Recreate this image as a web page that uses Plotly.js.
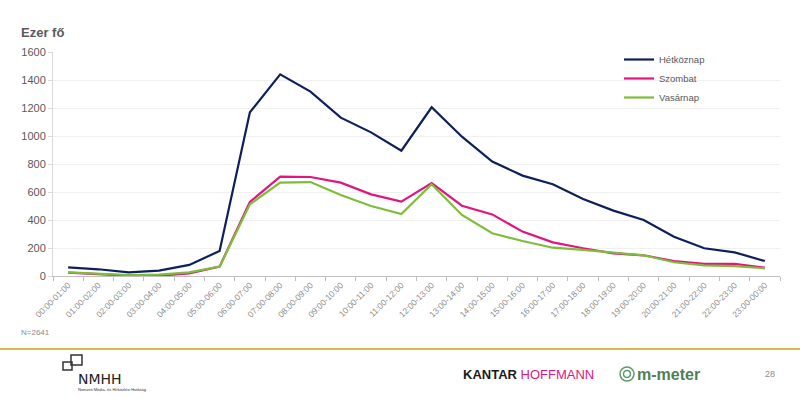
<!DOCTYPE html>
<html><head><meta charset="utf-8">
<script src="https://cdn.plot.ly/plotly-3.0.1.min.js"></script>
<style>html,body{margin:0;padding:0;background:#fff}#chart{width:800px;height:398px}</style>
</head><body><div id="chart"></div>
<script>
const categories = ["00:00-01:00","01:00-02:00","02:00-03:00","03:00-04:00","04:00-05:00","05:00-06:00","06:00-07:00","07:00-08:00","08:00-09:00","09:00-10:00","10:00-11:00","11:00-12:00","12:00-13:00","13:00-14:00","14:00-15:00","15:00-16:00","16:00-17:00","17:00-18:00","18:00-19:00","19:00-20:00","20:00-21:00","21:00-22:00","22:00-23:00","23:00-00:00"];
const hetkoznap = [62,48,26,38,79,179,1169,1440,1317,1131,1026,895,1205,995,817,717,655,550,467,400,281,198,169,107];
const szombat = [24,12,2,2,19,67,529,710,707,667,583,531,664,502,440,317,240,198,162,148,107,86,86,60];
const vasarnap = [26,14,7,10,26,67,512,667,671,579,500,443,655,436,305,250,202,186,169,148,98,76,71,55];
const seriesNames = ["Hétköznap","Szombat","Vasárnap"];
const colors = ["#0d1f5c","#e0157f","#7dbd3a"];
const yTicks = [0,200,400,600,800,1000,1200,1400,1600];

const traces = [hetkoznap, szombat, vasarnap].map((v,i)=>({
  type:'scatter', mode:'lines', x:categories, y:v, name:seriesNames[i],
  line:{color:colors[i], width:2.2}
}));

const L=53, R=780, T=52, B=276;
const px = x => (x-L)/(R-L);
const py = y => (B-y)/(B-T);

const layout = {
  width:800, height:398,
  margin:{l:L, r:800-R, t:T, b:398-B},
  paper_bgcolor:'#fff', plot_bgcolor:'#fff',
  font:{family:'Arial, Liberation Sans, sans-serif', color:'#595959'},
  showlegend:true,
  legend:{x:px(619), y:py(45), xanchor:'left', yanchor:'top', bgcolor:'rgba(0,0,0,0)',
    font:{size:9.5, color:'#595959'}, itemwidth:30, tracegroupgap:0},
  xaxis:{type:'category', range:[-0.5,23.5], tickangle:-45, tickfont:{size:8.5, color:'#8c8c8c'},
    showline:true, linecolor:'#bfbfbf', linewidth:1, ticks:'outside', ticklen:4, tickcolor:'#bfbfbf',
    tickson:'boundaries', showgrid:false, fixedrange:true},
  yaxis:{range:[0,1600], tickvals:yTicks, ticktext:yTicks.map(String), tickfont:{size:11, color:'#595959'},
    showline:true, linecolor:'#d9d9d9', ticks:'outside', ticklen:4, tickcolor:'#d9d9d9',
    showgrid:true, gridcolor:'#f0f0f0', zeroline:false, fixedrange:true},
  shapes:[
    {type:'line', xref:'paper', yref:'paper', x0:px(0), x1:px(800), y0:py(349), y1:py(349),
      line:{color:'#d6b84c', width:2}},
    {type:'rect', xref:'paper', yref:'paper', x0:px(63), x1:px(72), y0:py(370), y1:py(362),
      line:{color:'#333', width:1.5}},
    {type:'rect', xref:'paper', yref:'paper', x0:px(71), x1:px(82), y0:py(365), y1:py(355),
      line:{color:'#333', width:1.5}},
    {type:'circle', xref:'paper', yref:'paper', x0:px(620), x1:px(634), y0:py(381), y1:py(367),
      line:{color:'#5f9a6a', width:1.5}},
    {type:'circle', xref:'paper', yref:'paper', x0:px(623.5), x1:px(630.5), y0:py(377.5), y1:py(370.5),
      line:{color:'#5f9a6a', width:1.5}}
  ],
  annotations:[
    {text:'<b>Ezer fő</b>', xref:'paper', yref:'paper', x:px(19), y:py(33), xanchor:'left', yanchor:'middle',
      showarrow:false, font:{size:13, color:'#595959'}},
    {text:'N=2641', xref:'paper', yref:'paper', x:px(19), y:py(332), xanchor:'left', yanchor:'middle',
      showarrow:false, font:{size:8, color:'#8c8c8c'}},
    {text:'NMHH', xref:'paper', yref:'paper', x:px(76), y:py(379), xanchor:'left', yanchor:'middle',
      showarrow:false, font:{size:14, color:'#222', family:'DejaVu Sans, sans-serif'}},
    {text:'Nemzeti Média- és Hírközlési Hatóság', xref:'paper', yref:'paper', x:px(76), y:py(389), xanchor:'left', yanchor:'middle',
      showarrow:false, font:{size:4, color:'#333'}},
    {text:'<b>KANTAR</b> <span style="color:#e0157f">HOFFMANN</span>', xref:'paper', yref:'paper', x:px(461), y:py(374), xanchor:'left', yanchor:'middle',
      showarrow:false, font:{size:13, color:'#1a1a1a', family:'Liberation Sans, Arial, sans-serif'}},
    {text:'<b>m-meter</b>', xref:'paper', yref:'paper', x:px(635), y:py(374), xanchor:'left', yanchor:'middle',
      showarrow:false, font:{size:16, color:'#4d7f58', family:'Liberation Sans Narrow, Arial Narrow, sans-serif'}},
    {text:'28', xref:'paper', yref:'paper', x:px(770), y:py(374), xanchor:'center', yanchor:'middle',
      showarrow:false, font:{size:9, color:'#8c8c8c'}}
  ]
};
Plotly.newPlot('chart', traces, layout, {displayModeBar:false, staticPlot:true});
</script></body></html>
